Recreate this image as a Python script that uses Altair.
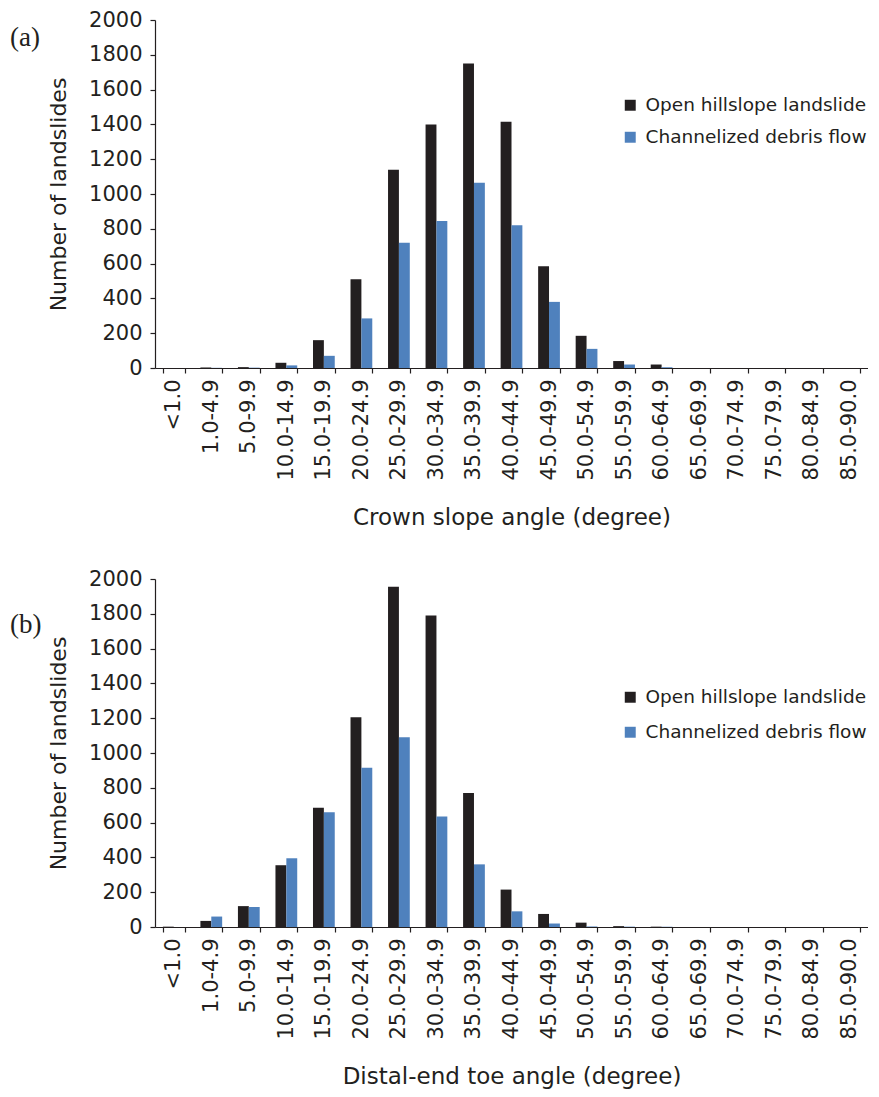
import altair as alt
import pandas as pd

bins = ["<1.0", "1.0-4.9", "5.0-9.9", "10.0-14.9", "15.0-19.9", "20.0-24.9",
        "25.0-29.9", "30.0-34.9", "35.0-39.9", "40.0-44.9", "45.0-49.9",
        "50.0-54.9", "55.0-59.9", "60.0-64.9", "65.0-69.9", "70.0-74.9",
        "75.0-79.9", "80.0-84.9", "85.0-90.0"]
series = ["Open hillslope landslide", "Channelized debris flow"]

crown_open = [0, 3, 5, 30, 160, 510, 1140, 1400, 1750, 1415, 585, 185, 40, 20, 0, 0, 0, 0, 0]
crown_chan = [0, 1, 2, 15, 70, 285, 720, 845, 1065, 820, 380, 110, 20, 5, 0, 0, 0, 0, 0]
toe_open = [2, 35, 120, 355, 685, 1205, 1955, 1790, 770, 215, 75, 25, 5, 2, 0, 0, 0, 0, 0]
toe_chan = [0, 60, 115, 395, 660, 915, 1090, 635, 360, 90, 20, 3, 2, 1, 0, 0, 0, 0, 0]

INK = "#231f20"
FONT = "DejaVu Sans"


def panel(open_vals, chan_vals, xtitle, label, label_y, leg_x, leg_y, row_pad):
    n = len(bins)
    df = pd.DataFrame({
        "bin": bins * 2,
        "series": [series[0]] * n + [series[1]] * n,
        "count": open_vals + chan_vals,
    })
    bars = alt.Chart(df).mark_bar().encode(
        x=alt.X("bin:N", sort=bins,
                scale=alt.Scale(paddingInner=0.42, paddingOuter=0.21),
                axis=alt.Axis(title=xtitle, labelAngle=270, labelFontSize=21,
                              labelFont=FONT, labelColor=INK, titleFont=FONT,
                              titleFontSize=23, titleFontWeight="normal",
                              titleColor=INK, titlePadding=26, labelPadding=6,
                              tickBand="extent", tickSize=5, tickColor=INK,
                              domainColor=INK, labelBaseline="middle",
                              labelAlign="right")),
        xOffset=alt.XOffset("series:N", sort=series,
                            scale=alt.Scale(paddingInner=0, paddingOuter=0)),
        y=alt.Y("count:Q", scale=alt.Scale(domain=[0, 2000]),
                axis=alt.Axis(title="Number of landslides", format="d",
                              values=list(range(0, 2001, 200)), grid=False,
                              labelFontSize=21, labelFont=FONT, labelColor=INK,
                              titleFont=FONT, titleFontSize=22,
                              titleFontWeight="normal", titleColor=INK,
                              titlePadding=18, labelPadding=8, tickSize=5,
                              tickColor=INK, domainColor=INK)),
        color=alt.Color("series:N", sort=series,
                        scale=alt.Scale(domain=series, range=[INK, "#4f81bd"]),
                        legend=alt.Legend(title=None, orient="none",
                                          legendX=leg_x, legendY=leg_y,
                                          symbolType="square", symbolSize=120,
                                          symbolStrokeWidth=0, labelLimit=400,
                                          labelFontSize=18.5, labelFont=FONT,
                                          labelColor=INK, rowPadding=row_pad,
                                          labelOffset=6)),
    )
    txt = alt.Chart(pd.DataFrame({"t": [label]})).mark_text(
        font="Liberation Serif", fontSize=27, align="left", baseline="middle",
        color=INK
    ).encode(x=alt.value(-145), y=alt.value(label_y), text="t:N")
    return alt.layer(bars, txt).properties(width=713, height=348)


a = panel(crown_open, crown_chan, "Crown slope angle (degree)", "(a)", 18, 466, 76, 13)
b = panel(toe_open, toe_chan, "Distal-end toe angle (degree)", "(b)", 46, 466, 109, 16)

chart = alt.vconcat(a, b, spacing=38).resolve_scale(color="independent").resolve_legend(
    color="independent").properties(
    padding={"left": 2, "top": 1, "right": 0, "bottom": 0}
).configure_view(stroke=None).configure_axis(domainWidth=1.2, tickWidth=1.2)

chart.save("out.html", embed_options={"renderer": "svg", "actions": False})
